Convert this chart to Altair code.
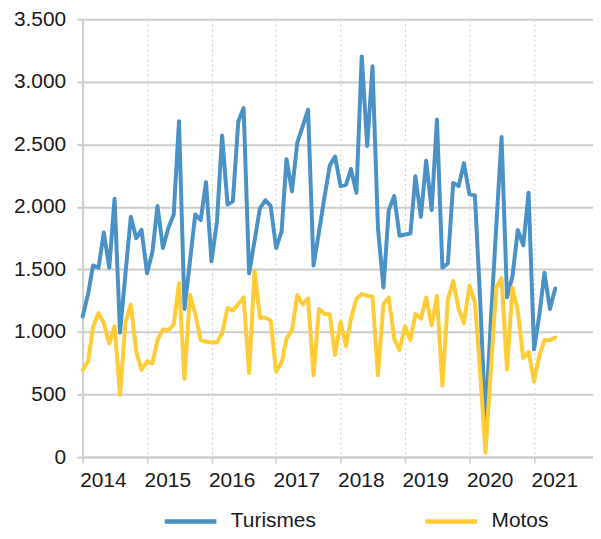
import altair as alt
import pandas as pd

series_names = ["Turismes", "Motos"]
series_colors = ["#4a92c5", "#ffcb36"]

year_ticks = [2014, 2015, 2016, 2017, 2018, 2019, 2020, 2021]
y_ticks = [0, 500, 1000, 1500, 2000, 2500, 3000, 3500]

turismes = [
    1124, 1303, 1532, 1513, 1795, 1513, 2066, 995, 1470, 1921, 1750, 1816,
    1469, 1645, 2008, 1671, 1829, 1940, 2685, 1184, 1566, 1940, 1895, 2198,
    1566, 1882, 2571, 2019, 2045, 2685, 2790, 1469, 1729, 1987, 2053, 2008,
    1671, 1803, 2382, 2124, 2514, 2645, 2777, 1532, 1800, 2070, 2330, 2403,
    2166, 2177, 2303, 2113, 3203, 2487, 3124, 1829, 1355, 1974, 2087, 1769,
    1779, 1787, 2245, 1920, 2369, 1974, 2698, 1513, 1548, 2192, 2166, 2350,
    2100, 2092, 1280, 276, 1084, 1845, 2558, 1277, 1448, 1816, 1692, 2113,
    861, 1145, 1474, 1184, 1348,
]
motos = [
    697, 763, 1040, 1150, 1071, 908, 1045, 495, 1080, 1219, 842, 697,
    763, 750, 934, 1021, 1013, 1061, 1390, 624, 1298, 1145, 934, 921,
    916, 916, 987, 1192, 1171, 1224, 1276, 671, 1492, 1113, 1113, 1092,
    684, 755, 947, 1013, 1295, 1219, 1269, 653, 1184, 1145, 1140, 816,
    1079, 887, 1105, 1263, 1303, 1290, 1284, 653, 1224, 1276, 947, 855,
    1045, 934, 1145, 1105, 1276, 1053, 1290, 571, 1263, 1408, 1184, 1071,
    1369, 1237, 697, 34, 690, 1355, 1430, 698, 1355, 1170, 790, 840,
    605, 816, 934, 934, 955,
]

n = len(turismes)
months = pd.date_range("2014-01-01", periods=n, freq="MS").strftime("%Y-%m-%d").tolist()

df = pd.DataFrame({
    "date": months + months,
    "serie": [series_names[0]] * n + [series_names[1]] * n,
    "value": turismes + motos,
})

FONT = "Liberation Sans"
GRID = "#cccccc"

x_enc = alt.X(
    "date:T",
    scale=alt.Scale(type="utc", domain=[alt.DateTime(year=2014, month=1, date=1, utc=True),
                                        alt.DateTime(year=2021, month=12, date=1, utc=True)]),
    axis=alt.Axis(
        title=None,
        values=[alt.DateTime(year=y, month=1, date=1, utc=True) for y in year_ticks],
        format="%Y",
        labelAlign="left",
        labelOffset=-3,
        labelPadding=7,
        tickSize=6,
        tickColor=GRID,
        tickWidth=1.5,
        domainColor=GRID,
        domainWidth=2,
        grid=True,
        gridColor=GRID,
        gridDash=[2, 3],
        gridWidth=1,
        labelFont=FONT,
        labelFontSize=21,
        labelColor="#1a1a1a",
    ),
)

y_enc = alt.Y(
    "value:Q",
    scale=alt.Scale(domain=[0, 3500], nice=False),
    axis=alt.Axis(
        title=None,
        values=y_ticks,
        labelExpr="replace(format(datum.value, ','), ',', '.')",
        labelPadding=11,
        tickSize=6,
        tickColor=GRID,
        tickWidth=2,
        domainColor=GRID,
        domainWidth=2,
        grid=True,
        gridColor=GRID,
        gridWidth=2,
        labelFont=FONT,
        labelFontSize=21,
        labelColor="#1a1a1a",
    ),
)

color_enc = alt.Color(
    "serie:N",
    scale=alt.Scale(domain=series_names, range=series_colors),
    legend=alt.Legend(
        title=None,
        orient="none",
        legendX=80,
        legendY=476,
        direction="horizontal",
        symbolType="stroke",
        symbolSize=2704,
        symbolStrokeWidth=4.5,
        labelFont=FONT,
        labelFontSize=21,
        labelColor="#1a1a1a",
        labelOffset=12,
        columnPadding=100,
        padding=0,
    ),
)

base = alt.Chart(df)
layers = [
    base.transform_filter(alt.datum.serie == name)
    .mark_line(strokeWidth=4, strokeJoin="round", strokeCap="round")
    .encode(x=x_enc, y=y_enc, color=color_enc)
    for name in series_names
]

chart = (
    alt.layer(*layers)
    .properties(
        width=513,
        height=440,
        autosize=alt.AutoSizeParams(type="none"),
        padding={"left": 75, "top": 10, "right": 0, "bottom": 73},
        background="white",
    )
    .configure_view(stroke=None)
)

chart.save("out.html", embed_options={"renderer": "svg", "actions": False})
